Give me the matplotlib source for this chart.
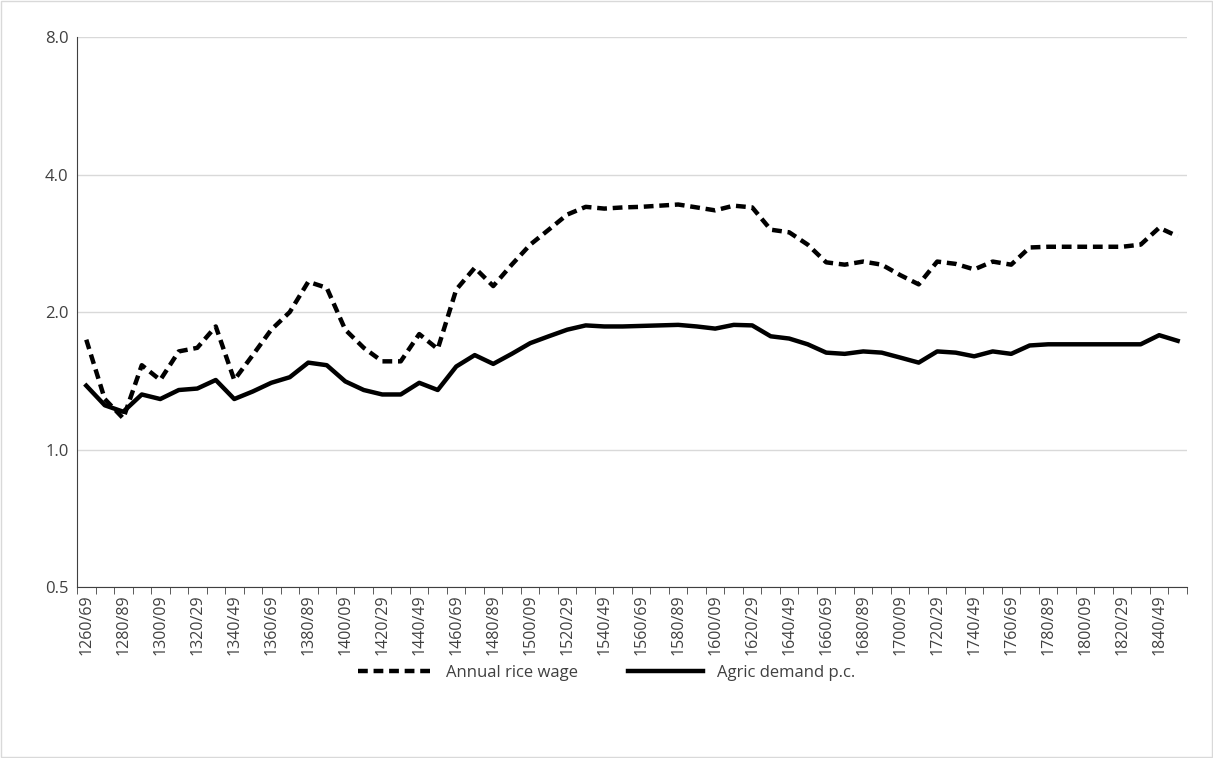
import matplotlib
matplotlib.use("Agg")
import matplotlib.pyplot as plt
from matplotlib.ticker import FixedLocator, NullLocator, FixedFormatter

plt.rcParams['font.family'] = ['Open Sans', 'DejaVu Sans']

decades = [f"{y}/{str(y+9)[-2:]}" for y in range(1260, 1860, 10)]
rice_wage = [1.74,1.29,1.17,1.53,1.42,1.64,1.67,1.86,1.42,1.61,1.83,2.0,2.33,2.26,1.83,1.67,1.56,1.56,1.79,1.66,
             2.24,2.5,2.28,2.54,2.81,3.03,3.27,3.4,3.37,3.39,3.4,3.42,3.44,3.39,3.34,3.42,3.39,3.03,2.99,2.81,
             2.57,2.54,2.58,2.54,2.41,2.3,2.58,2.55,2.48,2.58,2.54,2.77,2.78,2.78,2.78,2.78,2.78,2.81,3.06,2.93]
agric = [1.38,1.25,1.21,1.32,1.29,1.35,1.36,1.42,1.29,1.34,1.40,1.44,1.55,1.53,1.41,1.35,1.32,1.32,1.40,1.35,
         1.52,1.61,1.54,1.62,1.71,1.77,1.83,1.87,1.86,1.86,1.865,1.87,1.875,1.86,1.84,1.875,1.87,1.77,1.75,1.70,
         1.63,1.62,1.64,1.63,1.59,1.55,1.64,1.63,1.60,1.64,1.62,1.69,1.70,1.70,1.70,1.70,1.70,1.70,1.78,1.73]

fig = plt.figure(figsize=(12.13, 7.58), dpi=100)
ax = fig.add_axes([0.0635, 0.2256, 0.915, 0.7254])
x = list(range(len(decades)))
ax.plot(x, rice_wage, color='black', lw=3.2, ls=(0, (2.2, 1.3)), label='Annual rice wage')
ax.plot(x, agric, color='black', lw=3.2, label='Agric demand p.c.')
ax.set_yscale('log', base=2)
ax.set_ylim(0.5, 8)
ax.yaxis.set_major_locator(FixedLocator([0.5, 1, 2, 4, 8]))
ax.yaxis.set_minor_locator(NullLocator())
ax.yaxis.set_major_formatter(FixedFormatter(['0.5', '1.0', '2.0', '4.0', '8.0']))
ax.set_xlim(-0.5, len(decades) - 0.5)
ax.set_xticks(x[::2])
ax.set_xticklabels(decades[::2], rotation=90)
ax.set_xticks([i - 0.5 for i in range(len(decades) + 1)], minor=True)
ax.tick_params(axis='x', which='major', length=0, labelsize=11.5, colors='#404040', pad=5)
ax.tick_params(axis='x', which='minor', length=5, color='#404040')
ax.tick_params(axis='y', length=0, labelsize=12, colors='#404040', pad=6)
ax.grid(axis='y', color='#d9d9d9', lw=1)
for s in ['top', 'right']:
    ax.spines[s].set_visible(False)
for s in ['left', 'bottom']:
    ax.spines[s].set_color('#404040')
ax.set_axisbelow(True)
fig.legend(loc='center', bbox_to_anchor=(0.5, 0.112), ncol=2, frameon=False, fontsize=12,
           handlelength=4.5, columnspacing=3, labelcolor='#404040')
fig.patches.append(plt.Rectangle((0.001, 0.001), 0.998, 0.998, transform=fig.transFigure,
                                 fill=False, edgecolor='#d9d9d9', lw=1))
fig.savefig('out.png', dpi=100)
